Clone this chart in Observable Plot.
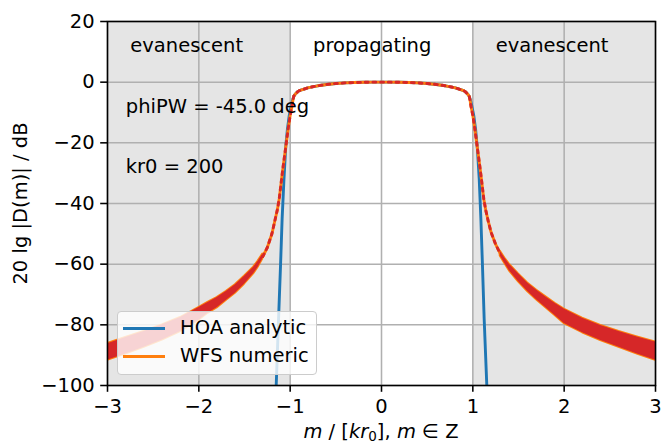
<!DOCTYPE html>
<html><head><meta charset="utf-8">
<script src="https://cdn.jsdelivr.net/npm/d3@7"></script>
<script src="https://cdn.jsdelivr.net/npm/@observablehq/plot@0.6"></script>
<style>
body{margin:0;background:#fff;}
#wrap{position:relative;width:662px;height:442px;overflow:hidden;font-family:"DejaVu Sans";}
#legend{position:absolute;left:117px;top:311px;width:200px;height:64px;box-sizing:border-box;border:1.5px solid #cccccc;border-radius:4px;background:rgba(255,255,255,0.8);}
.lg-line{position:absolute;left:5px;width:42px;height:3px;}
.lg-text{position:absolute;left:62px;font-size:19.5px;line-height:20px;color:#000;white-space:nowrap;}
</style></head><body><div id="wrap"></div>
<script>
const xTicks = [-3, -2, -1, 0, 1, 2, 3];
const yTicks = [-100, -80, -60, -40, -20, 0, 20];
const regionStart = [-3, 1];
const regionEnd = [-1, 3];

const hoaX = [-1.165,-1.153,-1.127,-1.105,-1.088,-1.068,-1.048,-1.03,-1.01,-0.99,-0.97,-0.96,-0.94,-0.92,-0.9,-0.8,-0.7,-0.6,-0.5,-0.4,-0.3,-0.2,-0.1,0,0.1,0.2,0.3,0.4,0.5,0.6,0.7,0.8,0.9,0.92,0.94,0.96,0.97,0.99,1.01,1.03,1.05,1.07,1.088,1.105,1.124,1.153,1.165];
const hoaDb = [-110,-100,-78,-60,-45,-32,-21,-15.5,-11,-8,-5.5,-4.6,-3.8,-3.2,-2.8,-1.8,-1.2,-0.75,-0.45,-0.25,-0.12,-0.05,0,0,0,-0.05,-0.12,-0.25,-0.45,-0.75,-1.2,-1.8,-2.8,-3.2,-3.8,-4.6,-5.5,-8,-11,-15.5,-22,-32,-45,-60,-78,-100,-110];

const wfsX = [-1.3,-1.25,-1.2,-1.17,-1.14,-1.12,-1.1,-1.08,-1.06,-1.04,-1.02,-1.0,-0.98,-0.97,-0.96,-0.94,-0.92,-0.9,-0.8,-0.7,-0.6,-0.5,-0.4,-0.3,-0.2,-0.1,0,0.1,0.2,0.3,0.4,0.5,0.6,0.7,0.8,0.9,0.92,0.94,0.96,0.97,0.98,1.0,1.02,1.04,1.06,1.08,1.1,1.12,1.14,1.17,1.2,1.25,1.3];
const wfsDb = [-57.5,-54.5,-50,-46,-42,-38.5,-33.5,-28.5,-24,-19.5,-15,-11,-8,-6,-4.6,-3.8,-3.2,-2.8,-1.8,-1.2,-0.75,-0.45,-0.25,-0.12,-0.05,0,0,0,-0.05,-0.12,-0.25,-0.45,-0.75,-1.2,-1.8,-2.8,-3.2,-3.8,-4.6,-6,-8,-11,-15,-19.5,-24,-28.5,-33.5,-38.5,-42,-46,-49.5,-53.5,-56.5];

const bandLeftX = [-3,-2.8,-2.6,-2.4,-2.2,-2.0,-1.9,-1.8,-1.7,-1.6,-1.5,-1.4,-1.35,-1.3];
const bandLeftUpper = [-86.2,-84.2,-82.2,-80,-77.6,-74.3,-72.6,-71,-69,-66.8,-64,-61,-59,-56.7];
const bandLeftLower = [-91.7,-89.6,-87.4,-85,-82.2,-78.5,-76.2,-74.4,-72,-69.6,-66.6,-63.2,-61,-58.3];
const bandRightX = [1.3,1.35,1.4,1.5,1.6,1.7,1.8,1.9,2.0,2.2,2.4,2.6,2.8,3.0];
const bandRightUpper = [-55.7,-58,-60,-63.2,-66.2,-68.6,-70.8,-72.9,-74.8,-77.8,-80.2,-82.2,-84,-85.7];
const bandRightLower = [-57.3,-59.8,-62.2,-65.8,-69,-71.8,-74.4,-76.9,-79.6,-82.6,-85.2,-87.4,-89.6,-91.7];

const annoX = [-2.75, -0.75, 1.25, -2.8, -2.8];
const annoY = [10, 10, 10, -10, -30];
const annoText = ["evanescent", "propagating", "evanescent", "phiPW = -45.0 deg", "kr0 = 200"];

const seriesNames = ["HOA analytic", "WFS numeric"];
const seriesColors = ["#1f77b4", "#ff7f0e"];
const analyticColor = "#d62728";
const yLabel = "20 lg |D(m)| / dB";

const regions = regionStart.map((s, i) => ({x1: s, x2: regionEnd[i]}));
const hoa = hoaX.map((x, i) => ({x, y: hoaDb[i]}));
const wfs = wfsX.map((x, i) => ({x, y: wfsDb[i]}));
const band = [
  ...bandLeftX.map((x, i) => ({x, hi: bandLeftUpper[i], lo: bandLeftLower[i], side: "L"})),
  ...bandRightX.map((x, i) => ({x, hi: bandRightUpper[i], lo: bandRightLower[i], side: "R"}))
];
const anno = annoX.map((x, i) => ({x, y: annoY[i], text: annoText[i]}));

const lw = 2.9, gw = 1.56;
const chart = Plot.plot({
  width: 662, height: 442,
  marginLeft: 107, marginRight: 7, marginTop: 21, marginBottom: 57,
  style: {fontFamily: "DejaVu Sans", fontSize: "19.5px", color: "black", background: "white"},
  x: {domain: [-3, 3]},
  y: {domain: [-100, 20]},
  marks: [
    Plot.rect(regions, {x1: "x1", x2: "x2", fill: "#e5e5e5"}),
    Plot.gridX(xTicks, {stroke: "#b0b0b0", strokeOpacity: 1, strokeWidth: gw}),
    Plot.gridY(yTicks, {stroke: "#b0b0b0", strokeOpacity: 1, strokeWidth: gw}),
    Plot.line(hoa, {x: "x", y: "y", stroke: seriesColors[0], strokeWidth: lw, clip: true}),
    Plot.line(wfs, {x: "x", y: "y", stroke: seriesColors[1], strokeWidth: lw, clip: true}),
    Plot.areaY(band, {x: "x", y1: "lo", y2: "hi", z: "side", fill: seriesColors[1], stroke: seriesColors[1], strokeWidth: 2, clip: true}),
    Plot.areaY(band, {x: "x", y1: "lo", y2: "hi", z: "side", fill: analyticColor, clip: true}),
    Plot.line(wfs, {x: "x", y: "y", stroke: analyticColor, strokeWidth: lw, strokeDasharray: "2.9,4.8", clip: true}),
    Plot.text(anno, {x: "x", y: "y", text: "text", textAnchor: "start", lineAnchor: "bottom", fontSize: 19.5, fill: "black"}),
    Plot.text([yLabel], {frameAnchor: "left", dx: -87, rotate: -90, textAnchor: "middle", lineAnchor: "middle", fontSize: 19.5, fill: "black"}),
    Plot.frame({stroke: "black", strokeWidth: gw}),
    Plot.axisX(xTicks, {tickSize: 6.8, tickPadding: 7, strokeWidth: gw, label: null, fontSize: 19.5}),
    Plot.axisY(yTicks, {tickSize: 6.8, tickPadding: 6, strokeWidth: gw, label: null, fontSize: 19.5})
  ]
});

// x-axis label with math-style italics
const svg = d3.select(chart);
const xl = svg.append("text")
  .attr("x", 381).attr("y", 438)
  .attr("text-anchor", "middle")
  .attr("font-family", "DejaVu Sans").attr("font-size", 19.5).attr("fill", "black");
xl.append("tspan").attr("font-style", "italic").text("m");
xl.append("tspan").text(" / [");
xl.append("tspan").attr("font-style", "italic").text("kr");
xl.append("tspan").attr("font-size", 13.5).attr("dy", 3).text("0");
xl.append("tspan").attr("dy", -3).text("], ");
xl.append("tspan").attr("font-style", "italic").text("m");
xl.append("tspan").text(" ∈ Z");

const wrap = document.getElementById("wrap");
wrap.appendChild(chart);

const legend = document.createElement("div");
legend.id = "legend";
const rowCenters = [16, 44];
seriesNames.forEach((name, i) => {
  const ln = document.createElement("div");
  ln.className = "lg-line";
  ln.style.top = (rowCenters[i] - 1.5) + "px";
  ln.style.background = seriesColors[i];
  legend.appendChild(ln);
  const tx = document.createElement("div");
  tx.className = "lg-text";
  tx.style.top = (rowCenters[i] - 10) + "px";
  tx.textContent = name;
  legend.appendChild(tx);
});
wrap.appendChild(legend);
</script>
</body></html>
